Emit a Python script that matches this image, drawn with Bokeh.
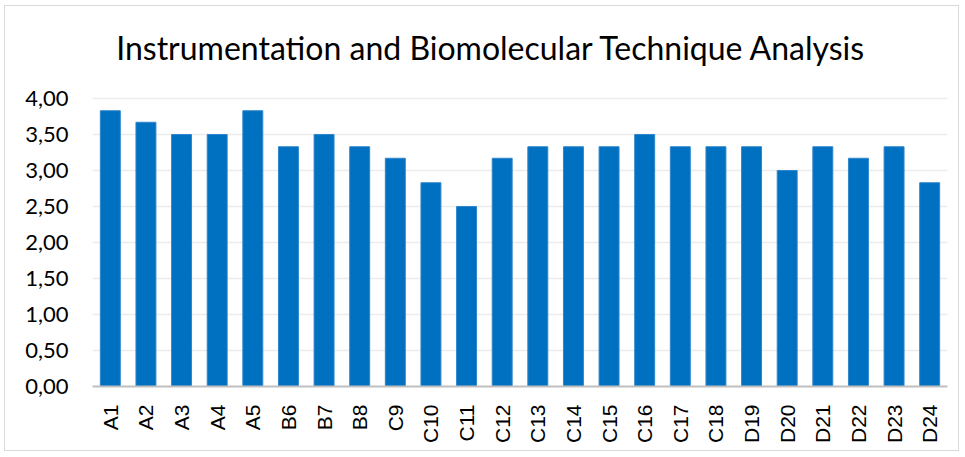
import math
from bokeh.plotting import figure
from bokeh.models import FixedTicker, CustomJSTickFormatter, Range1d, Label
from bokeh.embed import file_html
from bokeh.resources import INLINE

categories = ["A1", "A2", "A3", "A4", "A5", "B6", "B7", "B8", "C9", "C10", "C11", "C12",
              "C13", "C14", "C15", "C16", "C17", "C18", "D19", "D20", "D21", "D22", "D23", "D24"]
values = [3.83, 3.67, 3.50, 3.50, 3.83, 3.33, 3.50, 3.33, 3.17, 2.83, 2.50, 3.17,
          3.33, 3.33, 3.33, 3.50, 3.33, 3.33, 3.33, 3.00, 3.33, 3.17, 3.33, 2.83]
y_ticks = [0, 0.5, 1.0, 1.5, 2.0, 2.5, 3.0, 3.5, 4.0]
title_text = "Instrumentation and Biomolecular Technique Analysis"

# extra headroom above 4,00 holds the title (no axis line, ticks stop at 4,00)
p = figure(x_range=categories, y_range=Range1d(0, 5.139), width=955, height=446,
           output_backend="svg", toolbar_location=None,
           min_border_left=87, min_border_right=13, min_border_top=10, min_border_bottom=66)
p.styles = {"border": "1px solid #d9d9d9", "margin-left": "4px", "margin-top": "5px"}

p.vbar(x=categories, top=values, width=0.56, fill_color="#0070C0", line_color="#2f86cc", line_width=1)

title = Label(text=title_text, x=11.2, y=4.71,
              text_font="Lato", text_font_size="32px", text_color="#000000",
              text_align="center", text_baseline="middle")
p.add_layout(title)

p.x_range.range_padding = 0
p.xaxis.major_label_orientation = math.pi / 2
p.xaxis.major_label_text_font = "Liberation Sans"
p.xaxis.major_label_text_font_size = "21px"
p.xaxis.major_label_text_color = "#000000"
p.xaxis.major_label_standoff = 12
p.xaxis.major_tick_line_color = None
p.xaxis.minor_tick_line_color = None
p.xaxis.axis_line_color = "#bfbfbf"
p.xaxis.axis_line_width = 2

p.yaxis.ticker = FixedTicker(ticks=y_ticks)
p.yaxis.formatter = CustomJSTickFormatter(code="return tick.toFixed(2).replace('.', ',');")
p.yaxis.major_label_text_font = "Lato"
p.yaxis.major_label_text_font_size = "22px"
p.yaxis.major_label_text_color = "#000000"
p.yaxis.major_label_standoff = 18
p.yaxis.major_tick_line_color = None
p.yaxis.minor_tick_line_color = None
p.yaxis.axis_line_color = None

p.xgrid.grid_line_color = None
p.ygrid.grid_line_color = "#ececec"
p.ygrid.grid_line_width = 1.5
p.outline_line_color = None

open("out.html", "w").write(file_html(p, INLINE))
